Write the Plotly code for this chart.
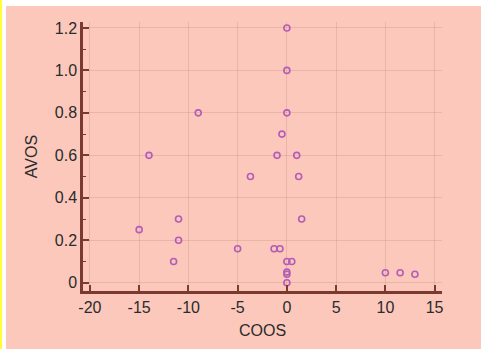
import plotly.graph_objects as go

coos = [0, 0, -9, 0, -0.5, -14, -1, 1, -3.7, 1.2, -11, 1.5, -15, -11, -5, -1.3, -0.7,
        -11.5, 0, 0.5, 0, 0, 0, 10, 11.5, 13]
avos = [1.2, 1.0, 0.8, 0.8, 0.7, 0.6, 0.6, 0.6, 0.5, 0.5, 0.3, 0.3, 0.25, 0.2, 0.16, 0.16, 0.16,
        0.1, 0.1, 0.1, 0.05, 0.04, 0.0, 0.047, 0.047, 0.04]

x_ticks = [-20, -15, -10, -5, 0, 5, 10, 15]
y_ticks = [0, 0.2, 0.4, 0.6, 0.8, 1.0, 1.2]
y_tick_text = ["0", "0.2", "0.4", "0.6", "0.8", "1.0", "1.2"]

BG = "#FBC8BB"
AX = "#7A3A30"
FONT = dict(family="Liberation Sans, Arial, sans-serif", size=16, color="#2b2b2b")

fig = go.Figure(go.Scatter(
    x=coos, y=avos, mode="markers",
    marker=dict(symbol="circle-open", size=6, color="#B45CB8", line=dict(width=1.6)),
    hoverinfo="skip",
))

W, H = 481, 349
L, R, T, B = 83, 39, 22, 58
pw, ph = W - L - R, H - T - B

fig.update_layout(
    width=W, height=H,
    margin=dict(l=L, r=R, t=T, b=B),
    paper_bgcolor=BG, plot_bgcolor=BG,
    font=FONT,
    showlegend=False,
    xaxis=dict(
        range=[-20.7, 15.75], tickvals=x_ticks, ticktext=[str(v) for v in x_ticks],
        showline=True, linecolor=AX, linewidth=2.5,
        ticks="inside", ticklen=6, tickwidth=1.5, tickcolor=AX,
        showgrid=True, gridcolor="rgba(170,100,90,0.2)", gridwidth=1,
        zeroline=False,
        title=dict(text="COOS", standoff=10, font=FONT),
        tickfont=FONT,
    ),
    yaxis=dict(
        range=[-0.039, 1.228], tickvals=y_ticks, ticktext=y_tick_text,
        showline=True, linecolor=AX, linewidth=2.5,
        ticks="inside", ticklen=6, tickwidth=1.5, tickcolor=AX,
        minor=dict(ticks="inside", ticklen=3, tickwidth=1.2, tickcolor=AX, dtick=0.1, tick0=0, showgrid=False),
        showgrid=True, gridcolor="rgba(170,100,90,0.2)", gridwidth=1,
        zeroline=False,
        title=dict(text="AVOS", standoff=14, font=FONT),
        tickfont=FONT,
    ),
    shapes=[
        dict(type="rect", xref="paper", yref="paper",
             x0=-L / pw, x1=1 + R / pw, y0=1 + (T - 6) / ph, y1=1 + T / ph,
             fillcolor="white", line=dict(width=0), layer="above"),
        dict(type="rect", xref="paper", yref="paper",
             x0=-L / pw, x1=(-L + 6) / pw, y0=-B / ph, y1=1 + T / ph,
             fillcolor="white", line=dict(width=0), layer="above"),
        dict(type="rect", xref="paper", yref="paper",
             x0=-L / pw, x1=(-L + 2) / pw, y0=-B / ph, y1=1 + T / ph,
             fillcolor="#FFFF33", line=dict(width=0), layer="above"),
    ],
)

fig.write_html("out.html", config={"displayModeBar": False},
               post_script="document.body.style.margin='0';")
